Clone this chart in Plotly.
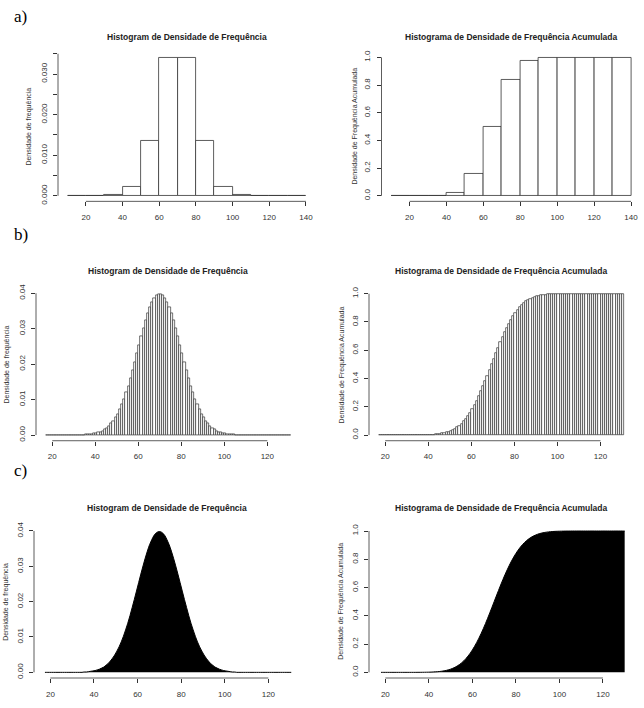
import plotly.graph_objects as go

W, H = 644, 708

# ---------------- data ----------------
# (a) bins of width 10
a_edges = [10, 20, 30, 40, 50, 60, 70, 80, 90, 100, 110, 120, 130]
a_density = [0.0, 0.0, 0.00013, 0.0021, 0.0136, 0.0341, 0.0341, 0.0136, 0.0021, 0.00013, 0.0, 0.0, 0.0]
a_cumulative = [0.0, 0.0, 0.0013, 0.0228, 0.159, 0.5, 0.841, 0.977, 0.9987, 1.0, 1.0, 1.0, 1.0]

# (b) bins of width 1, from 17 to 131
b_edges = list(range(17, 131))
b_density = [
    0, 0, 0, 0, 0, 0, 0, 0, 0, 0, 0, 0, 0, 0, 0, 0, 0, 0,
    0.0001, 0.0001, 0.0002, 0.0003, 0.0004, 0.0005, 0.0007, 0.0009, 0.0012, 0.0015,
    0.0020, 0.0025, 0.0032, 0.0040, 0.0049, 0.0060, 0.0072, 0.0086, 0.0102, 0.0120,
    0.0139, 0.0160, 0.0183, 0.0206, 0.0230, 0.0254, 0.0278, 0.0301, 0.0323, 0.0343,
    0.0361, 0.0375, 0.0387, 0.0394, 0.0398,
    0.0398, 0.0394, 0.0387, 0.0375, 0.0361, 0.0343, 0.0323, 0.0301, 0.0278, 0.0254,
    0.0230, 0.0206, 0.0183, 0.0160, 0.0139, 0.0120, 0.0102, 0.0086, 0.0072, 0.0060,
    0.0049, 0.0040, 0.0032, 0.0025, 0.0020, 0.0015, 0.0012, 0.0009, 0.0007, 0.0005,
    0.0004, 0.0003, 0.0002, 0.0001, 0.0001,
    0, 0, 0, 0, 0, 0, 0, 0, 0, 0, 0, 0, 0, 0, 0, 0, 0, 0, 0, 0, 0, 0, 0, 0, 0, 0,
]
b_cumulative = [
    0, 0, 0, 0, 0, 0, 0, 0, 0, 0, 0, 0, 0, 0, 0, 0, 0,
    0.0002, 0.0003, 0.0005, 0.0007, 0.0010, 0.0013, 0.0019, 0.0026, 0.0035, 0.0047,
    0.0062, 0.0082, 0.0107, 0.0139, 0.0179, 0.0228, 0.0287, 0.0359, 0.0446, 0.0548,
    0.0668, 0.0808, 0.0968, 0.1151, 0.1357, 0.1587, 0.1841, 0.2119, 0.2420, 0.2743,
    0.3085, 0.3446, 0.3821, 0.4207, 0.4602, 0.5000, 0.5398, 0.5793, 0.6179, 0.6554,
    0.6915, 0.7257, 0.7580, 0.7881, 0.8159, 0.8413, 0.8643, 0.8849, 0.9032, 0.9192,
    0.9332, 0.9452, 0.9554, 0.9641, 0.9713, 0.9772, 0.9821, 0.9861, 0.9893, 0.9918,
    0.9938, 0.9953, 0.9965, 0.9974, 0.9981, 0.9987, 0.9990, 0.9993, 0.9995, 0.9997,
    0.9998,
    1, 1, 1, 1, 1, 1, 1, 1, 1, 1, 1, 1, 1, 1, 1, 1, 1, 1, 1, 1, 1, 1, 1, 1, 1, 1,
]

# (c) very fine bins -> drawn as filled curve, sampled at bin positions of (b)
c_x_density = [e + 0.5 for e in b_edges]
c_density = b_density
c_x_cumulative = [e + 1 for e in b_edges][:-1]
c_cumulative = b_cumulative[:-1]

TITLE_L = "Histogram de Densidade de Frequência"
TITLE_R = "Histograma de Densidade de Frequência Acumulada"
YLAB_L = "Densidade de frequência"
YLAB_R = "Densidade de Frequência Acumulada"

FONT = "Liberation Sans, Arial, sans-serif"
LINE = "#333333"
TXT = "#333333"

fig = go.Figure()

def px2dom_x(a, b):
    return [a / W, b / W]

def px2dom_y(top, bottom):
    return [1 - bottom / H, 1 - top / H]

panels = [
    dict(x=(58, 315.5), y=(47.4, 198.6), xr=[4.8, 145.2], yr=[-0.00136, 0.03546],
         xt=[20, 40, 60, 80, 100, 120, 140],
         yt=[0, 0.005, 0.01, 0.015, 0.02, 0.025, 0.03, 0.035],
         yl=["0.000", "", "0.010", "", "0.020", "", "0.030", ""],
         ytitle=YLAB_L, ytx=29, title=TITLE_L, ty=32),
    dict(x=(381.5, 640.6), y=(47.4, 198.6), xr=[4.8, 145.2], yr=[-0.04, 1.04],
         xt=[20, 40, 60, 80, 100, 120, 140],
         yt=[0, 0.2, 0.4, 0.6, 0.8, 1.0],
         yl=["0.0", "0.2", "0.4", "0.6", "0.8", "1.0"],
         ytitle=YLAB_R, ytx=355, title=TITLE_R, ty=32),
    dict(x=(36, 300.8), y=(286.5, 440.7), xr=[12.44, 135.56], yr=[-0.0016, 0.0414],
         xt=[20, 40, 60, 80, 100, 120],
         yt=[0, 0.01, 0.02, 0.03, 0.04],
         yl=["0.00", "0.01", "0.02", "0.03", "0.04"],
         ytitle=YLAB_L, ytx=7, title=TITLE_L, ty=269),
    dict(x=(369, 634), y=(286.3, 440.7), xr=[12.44, 135.56], yr=[-0.04, 1.04],
         xt=[20, 40, 60, 80, 100, 120],
         yt=[0, 0.2, 0.4, 0.6, 0.8, 1.0],
         yl=["0.0", "0.2", "0.4", "0.6", "0.8", "1.0"],
         ytitle=YLAB_R, ytx=342, title=TITLE_R, ty=269),
    dict(x=(34, 300), y=(526.6, 680.7), xr=[12.48, 134.52], yr=[-0.0016, 0.0415],
         xt=[20, 40, 60, 80, 100, 120],
         yt=[0, 0.01, 0.02, 0.03, 0.04],
         yl=["0.00", "0.01", "0.02", "0.03", "0.04"],
         ytitle=YLAB_L, ytx=6, title=TITLE_L, ty=509),
    dict(x=(369, 634.5), y=(526.3, 680.7), xr=[12.48, 134.52], yr=[-0.04, 1.04],
         xt=[20, 40, 60, 80, 100, 120],
         yt=[0, 0.2, 0.4, 0.6, 0.8, 1.0],
         yl=["0.0", "0.2", "0.4", "0.6", "0.8", "1.0"],
         ytitle=YLAB_R, ytx=341, title=TITLE_R, ty=509),
]

layout = dict(
    width=W, height=H, margin=dict(l=0, r=0, t=0, b=0),
    paper_bgcolor="white", plot_bgcolor="white", showlegend=False,
    font=dict(family=FONT, size=8, color=TXT),
)
shapes = []
annotations = []

for i, p in enumerate(panels):
    n = "" if i == 0 else str(i + 1)
    xa, ya = "xaxis" + n, "yaxis" + n
    xref, yref = "x" + n, "y" + n
    layout[xa] = dict(domain=px2dom_x(*p["x"]), range=p["xr"], anchor=yref,
                      showgrid=False, zeroline=False, showline=False,
                      ticks="outside", ticklen=4, tickcolor=LINE, tickwidth=0.8,
                      tickvals=p["xt"], ticktext=[str(v) for v in p["xt"]],
                      ticklabelstandoff=4, ticklabeloverflow="allow",
                      tickfont=dict(size=8, color=TXT, family=FONT))
    layout[ya] = dict(domain=px2dom_y(*p["y"]), range=p["yr"], anchor=xref,
                      showgrid=False, zeroline=False, showline=False,
                      ticks="outside", ticklen=4, tickcolor=LINE, tickwidth=0.8,
                      tickvals=p["yt"], ticktext=p["yl"], tickangle=-90,
                      ticklabelstandoff=3, ticklabeloverflow="allow",
                      tickfont=dict(size=8, color=TXT, family=FONT))
    shapes.append(dict(type="line", xref=xref, yref=yref + " domain",
                       x0=p["xt"][0], x1=p["xt"][-1], y0=0, y1=0,
                       line=dict(color=LINE, width=0.8)))
    shapes.append(dict(type="line", xref=xref + " domain", yref=yref,
                       x0=0, x1=0, y0=p["yt"][0], y1=p["yt"][-1],
                       line=dict(color=LINE, width=0.8)))
    annotations.append(dict(text="<b>" + p["title"] + "</b>", xref="paper", yref="paper",
                            x=(p["x"][0] + p["x"][1]) / 2 / W, y=1 - p["ty"] / H,
                            xanchor="center", yanchor="middle", showarrow=False,
                            font=dict(size=8.5, color="#222222", family=FONT)))
    annotations.append(dict(text=p["ytitle"], xref="paper", yref="paper",
                            x=p["ytx"] / W, y=1 - (p["y"][0] + p["y"][1]) / 2 / H,
                            xanchor="center", yanchor="middle", showarrow=False, textangle=-90,
                            font=dict(size=7, color=TXT, family=FONT)))

for lab, yy in [("a)", 12), ("b)", 232), ("c)", 471)]:
    annotations.append(dict(text=lab, xref="paper", yref="paper", x=12 / W, y=1 - yy / H,
                            xanchor="left", yanchor="middle", showarrow=False,
                            font=dict(size=17, color="black", family="Liberation Serif, Times New Roman, serif")))

bar_line = dict(color=LINE, width=0.8)
fig.add_trace(go.Bar(x=a_edges, y=a_density, width=10, offset=0,
                     marker=dict(color="white", line=bar_line), xaxis="x", yaxis="y"))
fig.add_trace(go.Bar(x=a_edges, y=a_cumulative, width=10, offset=0,
                     marker=dict(color="white", line=bar_line), xaxis="x2", yaxis="y2"))
fig.add_trace(go.Bar(x=b_edges, y=b_density, width=1, offset=0,
                     marker=dict(color="white", line=dict(color=LINE, width=0.7)), xaxis="x3", yaxis="y3"))
fig.add_trace(go.Bar(x=b_edges, y=b_cumulative, width=1, offset=0,
                     marker=dict(color="white", line=dict(color=LINE, width=0.7)), xaxis="x4", yaxis="y4"))
fig.add_trace(go.Scatter(x=c_x_density, y=c_density, mode="lines", line=dict(color="black", width=1, shape="spline"),
                         fill="tozeroy", fillcolor="black", xaxis="x5", yaxis="y5"))
fig.add_trace(go.Scatter(x=c_x_cumulative, y=c_cumulative, mode="lines", line=dict(color="black", width=1, shape="spline"),
                         fill="tozeroy", fillcolor="black", xaxis="x6", yaxis="y6"))

layout["shapes"] = shapes
layout["annotations"] = annotations
layout["bargap"] = 0
fig.update_layout(**layout)

fig.write_html("out.html", config={"displayModeBar": False},
               post_script="document.body.style.margin='0';document.body.style.padding='0';")
